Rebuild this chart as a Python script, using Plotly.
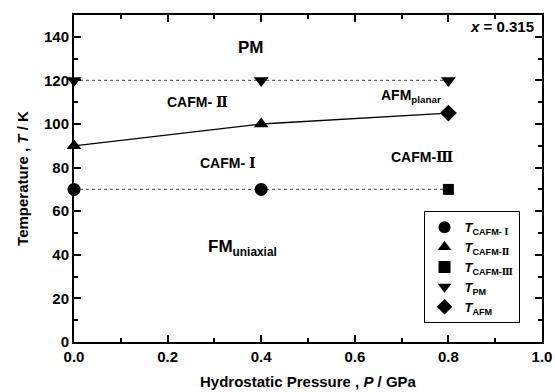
import plotly.graph_objects as go

# Data
p_cafm1 = [0.0, 0.4]
t_cafm1 = [70, 70]
p_cafm2 = [0.0, 0.4]
t_cafm2 = [90, 100]
p_cafm3 = [0.8]
t_cafm3 = [70]
p_pm = [0.0, 0.4, 0.8]
t_pm = [120, 120, 120]
p_afm = [0.8]
t_afm = [105]

# boundary lines
p_solid = [0.0, 0.4, 0.8]
t_solid = [90, 100, 105]
p_dot = [0.0, 0.8]
t_dot_pm = [120, 120]
t_dot_c1 = [70, 70]

FONT = "Liberation Sans, Arial, sans-serif"
SER = "<span style='font-family:DejaVu Serif'>%s</span>"
R1, R2, R3 = SER % "Ⅰ", SER % "Ⅱ", SER % "Ⅲ"

fig = go.Figure()
fig.add_trace(go.Scatter(x=p_dot, y=t_dot_pm, mode="lines", showlegend=False,
                         line=dict(color="#666", width=1.2, dash="dot")))
fig.add_trace(go.Scatter(x=p_dot, y=t_dot_c1, mode="lines", showlegend=False,
                         line=dict(color="#666", width=1.2, dash="dot")))
fig.add_trace(go.Scatter(x=p_solid, y=t_solid, mode="lines", showlegend=False,
                         line=dict(color="black", width=1.3)))

mk = dict(color="black", size=13)
fig.add_trace(go.Scatter(x=p_cafm1, y=t_cafm1, mode="markers", cliponaxis=False,
                         name="<b><i>T</i><sub>CAFM- " + R1 + "</sub></b>",
                         marker=dict(symbol="circle", **mk)))
fig.add_trace(go.Scatter(x=p_cafm2, y=t_cafm2, mode="markers", cliponaxis=False,
                         name="<b><i>T</i><sub>CAFM-" + R2 + "</sub></b>",
                         marker=dict(symbol="triangle-up", **mk)))
fig.add_trace(go.Scatter(x=p_cafm3, y=t_cafm3, mode="markers", cliponaxis=False,
                         name="<b><i>T</i><sub>CAFM-" + R3 + "</sub></b>",
                         marker=dict(symbol="square", color="black", size=11)))
fig.add_trace(go.Scatter(x=p_pm, y=t_pm, mode="markers", cliponaxis=False,
                         name="<b><i>T</i><sub>PM</sub></b>",
                         marker=dict(symbol="triangle-down", **mk)))
fig.add_trace(go.Scatter(x=p_afm, y=t_afm, mode="markers", cliponaxis=False,
                         name="<b><i>T</i><sub>AFM</sub></b>",
                         marker=dict(symbol="diamond", **mk)))

def lab(x, y, text, size=14):
    fig.add_annotation(x=x, y=y, text=text, showarrow=False,
                       font=dict(family=FONT, size=size, color="black"))

lab(0.378, 135, "<b>PM</b>", 17)
lab(0.263, 110, "<b>CAFM- " + R2 + "</b>", 14)
lab(0.33, 82, "<b>CAFM- " + R1 + "</b>", 14)
lab(0.744, 85, "<b>CAFM-" + R3 + "</b>", 14)
lab(0.72, 113, "<b>AFM<sub>planar</sub></b>", 14)
lab(0.36, 43, "<b>FM<sub>uniaxial</sub></b>", 17)
fig.add_annotation(x=0.988, y=144.5, xref="x", yref="y", xanchor="right",
                   text="<b><i>x</i> = 0.315</b>", showarrow=False,
                   font=dict(family=FONT, size=15, color="black"))

axis_common = dict(showline=True, linecolor="black", linewidth=2, mirror="ticks",
                   ticks="inside", ticklen=7, tickwidth=1.5, tickcolor="black",
                   showgrid=False, zeroline=False, automargin=False,
                   tickfont=dict(family=FONT, size=15, color="black"))

fig.update_xaxes(range=[0, 1], dtick=0.2, tickformat=".1f",
                 minor=dict(dtick=0.1, ticks="inside", ticklen=4, tickwidth=1.5,
                            tickcolor="black"),
                 title=dict(text="<b>Hydrostatic Pressure , <i>P</i> / GPa</b>",
                            font=dict(family=FONT, size=15, color="black"), standoff=12),
                 **axis_common)
fig.update_yaxes(range=[0, 150], dtick=20,
                 minor=dict(dtick=10, ticks="inside", ticklen=4, tickwidth=1.5,
                            tickcolor="black"),
                 title=dict(text="<b>Temperature , <i>T</i> / K</b>",
                            font=dict(family=FONT, size=15, color="black"), standoff=12),
                 **axis_common)
fig.update_xaxes(tickprefix="<b>", ticksuffix="</b>")
fig.update_yaxes(tickprefix="<b>", ticksuffix="</b>")

fig.update_layout(
    width=555, height=392,
    margin=dict(l=74, r=13, t=15, b=50),
    plot_bgcolor="white", paper_bgcolor="white",
    font=dict(family=FONT, color="black"),
    legend=dict(x=0.952, y=0.4, xanchor="right", yanchor="top",
                bordercolor="black", borderwidth=1, bgcolor="white",
                font=dict(family=FONT, size=13, color="black"),
                tracegroupgap=0, itemsizing="constant"),
)

fig.write_html("out.html", config={"displayModeBar": False},
               post_script="document.body.style.margin='0';document.body.style.overflow='hidden';")
